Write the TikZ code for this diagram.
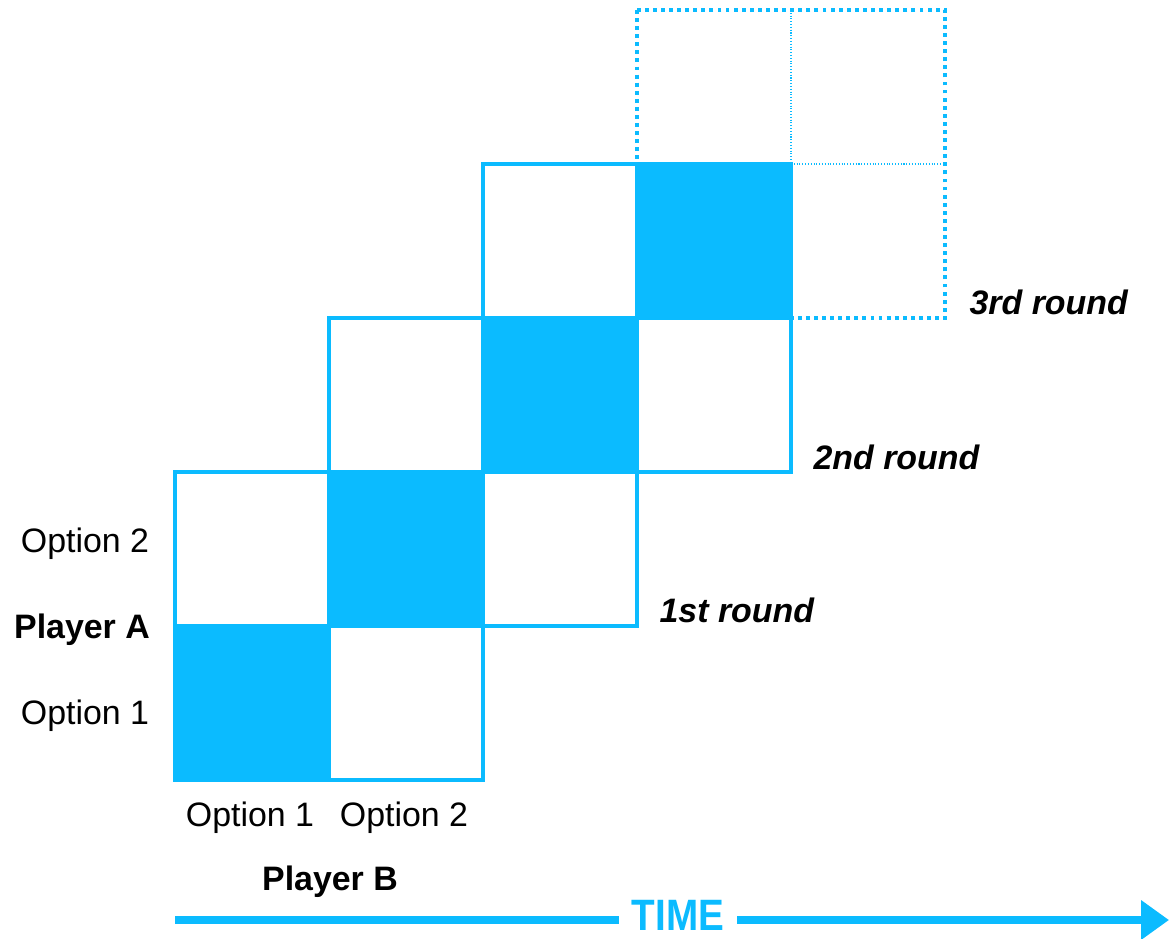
\documentclass[tikz,border=0pt]{standalone}
\usepackage{fontspec}
\setmainfont{Liberation Sans}
\newfontfamily\narrowfont[FakeStretch=0.88]{Liberation Sans}
\usetikzlibrary{positioning, arrows.meta}
\definecolor{skyblue}{RGB}{11,187,255}

\begin{document}
\begin{tikzpicture}[
                    % one unit = one pixel of the sketch
                    x=0.02cm, y=-0.02cm,
                    every path/.style={color=skyblue, line width=2pt},
                    every node/.style={color=black, font=\fontsize{19.3}{22}\selectfont}
                  ]
                  % --- Define dimensions of the board ---
                  \def\Xstart{175}  % left edge of the first board
                  \def\Ystart{472}  % top edge of the first board
                  \def\Cell{154}    % size of one cell

                  % --- Define styles ---
                  \tikzstyle{cell fill}=[fill=skyblue, draw=skyblue]
                  \tikzstyle{board line}=[draw=skyblue, line width=2pt]
                  \tikzstyle{dot border}=[draw=skyblue, line width=2.2pt, dash pattern=on 2.2pt off 2.4pt]
                  \tikzstyle{dot inner}=[draw=skyblue, line width=0.6pt, dash pattern=on 0.6pt off 1pt]
                  \tikzstyle{round label}=[font=\fontsize{19.3}{22}\selectfont\bfseries\itshape, anchor=west]

  \useasboundingbox (0,0) rectangle (1169,939);

  % --- Next round (dotted) ---
  \def\Xo{\Xstart+3*\Cell}
  \def\Yo{\Ystart-3*\Cell}
  \draw[dot inner] ({\Xo+\Cell}, {\Yo}) -- ++(0, \Cell);
  \draw[dot inner] ({\Xo+\Cell}, {\Yo+\Cell}) -- ++(\Cell, 0);
  \draw[dot border] ({\Xo}, {\Yo}) rectangle ++(2*\Cell, 2*\Cell);

  % --- Chosen cells on the diagonal ---
  \foreach \i in {0,...,3} {
    \fill[cell fill] ({\Xstart+\i*\Cell}, {\Ystart+\Cell-\i*\Cell}) rectangle ++(\Cell, \Cell);
  }

  % --- The three played boards ---
  \foreach \k in {0,1,2} {
    \draw[board line] ({\Xstart+\k*\Cell}, {\Ystart-\k*\Cell}) rectangle ++(2*\Cell, 2*\Cell);
    \draw[board line] ({\Xstart+\k*\Cell+\Cell}, {\Ystart-\k*\Cell}) -- ++(0, 2*\Cell);
    \draw[board line] ({\Xstart+\k*\Cell}, {\Ystart-\k*\Cell+\Cell}) -- ++(2*\Cell, 0);
  }

  % --- Player labels ---
  \node (aopt2) at (85,544) {Option 2};
  \node[font=\fontsize{19.3}{22}\selectfont\bfseries] (playerA) at (82,630) {Player A};
  \node (aopt1) at (85,716) {Option 1};
  \node (bopt1) at (250,818) {Option 1};
  \node (bopt2) at (404,818) {Option 2};
  \node[font=\fontsize{19.3}{22}\selectfont\bfseries] (playerB) at (330,882) {Player B};

  % --- Round labels ---
  \node[round label] (round1) at (652,610) {1st round};
  \node[round label] (round2) at (806,457) {2nd round};
  \node[round label] (round3) at (962,302) {3rd round};

  % --- Time axis ---
  \coordinate (tstart) at (175,920);
  \coordinate (tend) at (1169,920);
  \draw[line width=4.5pt, -{Triangle[length=0.56cm, width=0.76cm]}] (tstart) -- (tend);
  \node[text=skyblue, fill=white, inner xsep=0.26cm, inner ysep=0pt,
        font=\narrowfont\fontsize{25}{28}\selectfont\bfseries] (time) at (678,915) {TIME};

                \end{tikzpicture}
\end{document}
